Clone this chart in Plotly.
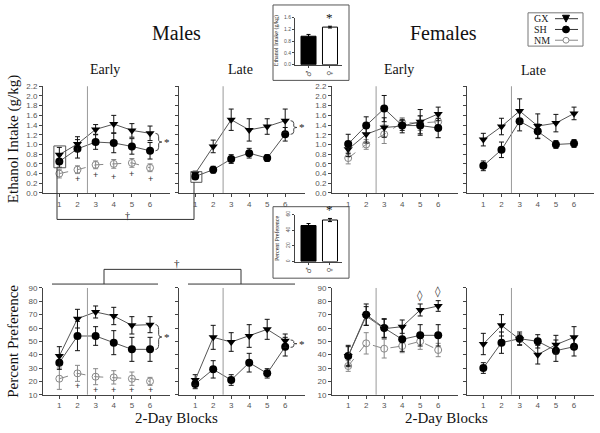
import plotly.graph_objects as go

W, H = 600, 433
def px(x): return x / W
def py(y): return 1 - y / H

# ---------------- data ----------------
blocks = [1, 2, 3, 4, 5, 6]
intake_ticks = [0.0, 0.2, 0.4, 0.6, 0.8, 1.0, 1.2, 1.4, 1.6, 1.8, 2.0, 2.2]
pref_ticks = [10, 20, 30, 40, 50, 60, 70, 80, 90]

# Ethanol intake (g/kg)
m_early_gx = [0.79, 1.01, 1.31, 1.42, 1.29, 1.23]
m_early_gx_se = [0.15, 0.15, 0.10, 0.18, 0.14, 0.15]
m_early_sh = [0.65, 0.91, 1.05, 1.03, 0.96, 0.87]
m_early_sh_se = [0.12, 0.19, 0.15, 0.20, 0.16, 0.17]
m_early_nm = [0.40, 0.48, 0.58, 0.60, 0.62, 0.52]
m_early_nm_se = [0.09, 0.08, 0.08, 0.09, 0.09, 0.08]

m_late_gx = [0.40, 0.96, 1.51, 1.30, 1.37, 1.49]
m_late_gx_se = [0.05, 0.13, 0.22, 0.23, 0.16, 0.24]
m_late_sh = [0.34, 0.48, 0.70, 0.82, 0.72, 1.21]
m_late_sh_se = [0.05, 0.07, 0.09, 0.10, 0.07, 0.14]

f_early_gx = [0.90, 1.21, 1.35, 1.38, 1.47, 1.63]
f_early_gx_se = [0.15, 0.18, 0.20, 0.14, 0.25, 0.14]
f_early_sh = [1.01, 1.39, 1.74, 1.39, 1.39, 1.34]
f_early_sh_se = [0.20, 0.18, 0.27, 0.10, 0.20, 0.20]
f_early_nm = [0.72, 1.00, 1.21, 1.45, 1.44, 1.47]
f_early_nm_se = [0.12, 0.10, 0.19, 0.10, 0.15, 0.12]

f_late_gx = [1.10, 1.37, 1.69, 1.38, 1.44, 1.64]
f_late_gx_se = [0.13, 0.17, 0.25, 0.25, 0.18, 0.13]
f_late_sh = [0.56, 0.89, 1.48, 1.27, 1.00, 1.02]
f_late_sh_se = [0.10, 0.16, 0.20, 0.15, 0.08, 0.08]

# Percent preference
m_early_gx_p = [39, 67, 72, 69, 62, 62.5]
m_early_gx_p_se = [7, 7, 4.5, 6.5, 6.5, 6]
m_early_sh_p = [34, 54, 54, 49, 44, 44]
m_early_sh_p_se = [5, 11, 7, 9, 9, 9]
m_early_nm_p = [22, 26, 23.5, 23, 22, 20]
m_early_nm_p_se = [8, 6, 6, 5, 5, 3]

m_late_gx_p = [21, 53, 49.5, 54, 59, 50.5]
m_late_gx_p_se = [4, 9, 7, 8.5, 7.5, 5]
m_late_sh_p = [18, 29, 21, 34, 26, 46]
m_late_sh_p_se = [3.5, 6.5, 4, 7, 3.5, 7]

f_early_gx_p = [39, 69, 59.5, 61, 73.5, 76.5]
f_early_gx_p_se = [7, 7, 7, 5, 4.5, 4]
f_early_sh_p = [39, 70, 60, 51.5, 54.5, 54.5]
f_early_sh_p_se = [8, 8, 7, 9, 8, 8]
f_early_nm_p = [31.5, 48.5, 44.5, 46.5, 50, 43.5]
f_early_nm_p_se = [4, 8, 7, 5, 6, 5]

f_late_gx_p = [48, 62, 51.5, 40, 47.5, 53]
f_late_gx_p_se = [8, 8, 4, 7, 7, 8]
f_late_sh_p = [30, 49, 52, 50, 43, 46]
f_late_sh_p_se = [4, 8, 5, 5, 8, 7]

# Insets (sex difference)
sexes = ["\u2642", "\u2640"]
inset_intake = [0.97, 1.28]
inset_intake_se = [0.06, 0.03]
inset_pref = [46, 53]
inset_pref_se = [2.5, 2]

# significance marks
plus_blocks_intake = [2, 3, 4, 5, 6]
plus_y_intake = [0.28, 0.37, 0.32, 0.40, 0.29]
plus_blocks_pref = [2, 3, 4, 5, 6]
plus_y_pref = [16.5, 13.5, 13.5, 13.5, 13.5]
diamond_blocks = [5, 6]
diamond_y = [84.5, 87.5]

# ---------------- figure ----------------
SERIF = "Liberation Serif"
SANS = "Liberation Sans"
AX = "#444444"
TICKC = "#555555"
TXT = "#222222"

fig = go.Figure()

def axn(n, c):
    return c if n == 1 else f"{c}{n}"

STYLE = {
    "GX": dict(marker=dict(symbol="triangle-down", size=8, color="black"),
               line=dict(color="#555555", width=1), ecol="#111111"),
    "SH": dict(marker=dict(symbol="circle", size=8, color="black"),
               line=dict(color="#555555", width=1), ecol="#111111"),
    "NM": dict(marker=dict(symbol="circle-open", size=7, color="#888888", line=dict(width=1)),
               line=dict(color="#888888", width=1, dash="dash"), ecol="#888888"),
}

def add_series(n, y, se, kind):
    s = STYLE[kind]
    fig.add_trace(go.Scatter(
        x=blocks, y=y, mode="lines+markers", name=kind, showlegend=False,
        marker=s["marker"], line=s["line"], cliponaxis=False,
        error_y=dict(type="data", array=se, color=s["ecol"], thickness=1, width=2.5),
        xaxis=axn(n, "x"), yaxis=axn(n, "y")))

# top row
add_series(1, m_early_nm, m_early_nm_se, "NM")
add_series(1, m_early_sh, m_early_sh_se, "SH")
add_series(1, m_early_gx, m_early_gx_se, "GX")
add_series(2, m_late_sh, m_late_sh_se, "SH")
add_series(2, m_late_gx, m_late_gx_se, "GX")
add_series(3, f_early_nm, f_early_nm_se, "NM")
add_series(3, f_early_gx, f_early_gx_se, "GX")
add_series(3, f_early_sh, f_early_sh_se, "SH")
add_series(4, f_late_sh, f_late_sh_se, "SH")
add_series(4, f_late_gx, f_late_gx_se, "GX")
# bottom row
add_series(5, m_early_nm_p, m_early_nm_p_se, "NM")
add_series(5, m_early_sh_p, m_early_sh_p_se, "SH")
add_series(5, m_early_gx_p, m_early_gx_p_se, "GX")
add_series(6, m_late_sh_p, m_late_sh_p_se, "SH")
add_series(6, m_late_gx_p, m_late_gx_p_se, "GX")
add_series(7, f_early_nm_p, f_early_nm_p_se, "NM")
add_series(7, f_early_sh_p, f_early_sh_p_se, "SH")
add_series(7, f_early_gx_p, f_early_gx_p_se, "GX")
add_series(8, f_late_sh_p, f_late_sh_p_se, "SH")
add_series(8, f_late_gx_p, f_late_gx_p_se, "GX")

# insets
for n, vals, se in [(9, inset_intake, inset_intake_se), (10, inset_pref, inset_pref_se)]:
    fig.add_trace(go.Bar(
        x=[0, 1], y=vals, width=0.7, showlegend=False,
        marker=dict(color=["black", "white"], line=dict(color="black", width=1)),
        error_y=dict(type="data", array=se, color="black", thickness=1, width=2),
        xaxis=axn(n, "x"), yaxis=axn(n, "y")))

layout = dict(
    width=W, height=H, margin=dict(l=0, r=0, t=0, b=0),
    paper_bgcolor="white", plot_bgcolor="rgba(0,0,0,0)", showlegend=False,
)

xdom = [(43, 170), (179, 305), (332, 458), (467, 594)]
top_y = (193, 84)
bot_y = (399, 290)

for i in range(8):
    n = i + 1
    xd = xdom[i % 4]
    yd = top_y if i < 4 else bot_y
    labels = (i % 4) in (0, 2)
    xa = dict(domain=[px(xd[0]), px(xd[1])], range=[0.1, 7.1], tickvals=blocks,
              ticks="outside", ticklen=3, tickcolor=AX, showline=True, linecolor=AX,
              linewidth=1, showgrid=False, zeroline=False, anchor=axn(n, "y"),
              tickfont=dict(family=SANS, size=8, color=TICKC), fixedrange=True)
    if i < 4:
        ya = dict(range=[0, 2.2], tickvals=intake_ticks,
                  ticktext=[f"{v:.1f}" for v in intake_ticks])
    else:
        ya = dict(range=[10, 90], tickvals=pref_ticks, ticktext=[str(v) for v in pref_ticks])
    ya.update(domain=[py(yd[0]), py(yd[1])], ticks="outside", ticklen=3, tickcolor=AX,
              showline=True, linecolor=AX, linewidth=1, showgrid=False, zeroline=False,
              anchor=axn(n, "x"), showticklabels=labels,
              tickfont=dict(family=SANS, size=8, color=TICKC), fixedrange=True)
    layout["xaxis" if n == 1 else f"xaxis{n}"] = xa
    layout["yaxis" if n == 1 else f"yaxis{n}"] = ya

# inset axes
for n, (y0, y1), rng, tv, tt, yang in [
        (9, (62, 14), [0, 1.6], [0, 0.4, 0.8, 1.2, 1.6], ["0.0", "0.4", "0.8", "1.2", "1.6"], 0),
        (10, (263, 215), [0, 60], [0, 20, 40, 60], ["0", "20", "40", "60"], -90)]:
    layout[f"xaxis{n}"] = dict(domain=[px(295), px(342)], range=[-0.63, 1.56],
                               tickvals=[0, 1], ticktext=sexes, tickangle=-90,
                               ticks="outside", ticklen=2, showline=True, linecolor=AX,
                               showgrid=False, zeroline=False, anchor=f"y{n}",
                               tickfont=dict(family="DejaVu Sans", size=7, color=TICKC),
                               fixedrange=True)
    layout[f"yaxis{n}"] = dict(domain=[py(y0), py(y1)], range=rng, tickvals=tv, ticktext=tt,
                               tickangle=yang, ticks="outside", ticklen=2, showline=True,
                               linecolor=AX, showgrid=False, zeroline=False, anchor=f"x{n}",
                               tickfont=dict(family=SANS, size=5, color=TICKC),
                               fixedrange=True)

fig.update_layout(**layout)

shapes = []
ann = []

def pline(x0, y0, x1, y1, color="#333333", width=1):
    shapes.append(dict(type="line", xref="paper", yref="paper", x0=px(x0), y0=py(y0),
                       x1=px(x1), y1=py(y1), line=dict(color=color, width=width)))

# vertical separators at block 2.5
for n in range(1, 9):
    shapes.append(dict(type="line", xref=axn(n, "x"), yref=f"{axn(n, 'y')} domain",
                       x0=2.55, x1=2.55, y0=0, y1=1, line=dict(color="#999999", width=1)))

# boxes around block-1 points
shapes.append(dict(type="rect", xref="x", yref="y", x0=0.7, x1=1.35, y0=0.52, y1=0.97,
                   line=dict(color="#555555", width=1)))
shapes.append(dict(type="rect", xref="x2", yref="y2", x0=0.76, x1=1.37, y0=0.22, y1=0.44,
                   line=dict(color="#555555", width=1)))

# dagger connector (intake)
pline(57, 167, 57, 220)
pline(57, 220, 194, 220)
pline(194, 220, 194, 182)
ann.append(dict(xref="paper", yref="paper", x=px(124), y=py(216), text="\u2020",
                showarrow=False, borderpad=0, font=dict(family=SERIF, size=10, color=TXT)))

# dagger connector (preference)
pline(52, 286, 158, 286)
pline(104, 286, 104, 271)
pline(104, 271, 241, 271)
pline(241, 271, 241, 286)
pline(188, 286, 295, 286)
ann.append(dict(xref="paper", yref="paper", x=px(173), y=py(265), text="\u2020",
                showarrow=False, borderpad=0, font=dict(family=SERIF, size=11, color=TXT)))

# inset frames
shapes.append(dict(type="rect", xref="paper", yref="paper", x0=px(273), x1=px(349),
                   y0=py(78), y1=py(1), line=dict(color="#555555", width=1)))
shapes.append(dict(type="rect", xref="paper", yref="paper", x0=px(273), x1=px(349),
                   y0=py(280), y1=py(207), line=dict(color="#555555", width=1)))

# legend (manual, text left / symbol right as in the original)
shapes.append(dict(type="rect", xref="paper", yref="paper", x0=px(528), x1=px(583),
                   y0=py(43), y1=py(9), line=dict(color="#777777", width=1)))
for name, yy in [("GX", 15), ("SH", 26), ("NM", 37)]:
    ann.append(dict(xref="paper", yref="paper", x=px(533), y=py(yy), text=name,
                    xanchor="left", yanchor="middle", showarrow=False, borderpad=0,
                    font=dict(family=SERIF, size=10, color=TXT)))
pline(555, 15, 578, 15, color="#333333")
pline(555, 26, 578, 26, color="#333333")
pline(555, 37, 578, 37, color="#888888")
shapes.append(dict(type="path", xref="paper", yref="paper",
                   path=f"M {px(562.5)} {py(11.5)} L {px(569.5)} {py(11.5)} L {px(566)} {py(18.5)} Z",
                   fillcolor="black", line=dict(color="black", width=1)))
shapes.append(dict(type="circle", xref="paper", yref="paper", x0=px(562.5), x1=px(569.5),
                   y0=py(29.5), y1=py(22.5), fillcolor="black", line=dict(color="black", width=1)))
shapes.append(dict(type="circle", xref="paper", yref="paper", x0=px(563), x1=px(569),
                   y0=py(40), y1=py(34), fillcolor="white", line=dict(color="#888888", width=1)))

# titles
def ptext(x, y, text, size, angle=0, family=SERIF, color="#111111"):
    ann.append(dict(xref="paper", yref="paper", x=px(x), y=py(y), text=text,
                    showarrow=False, textangle=angle, xanchor="center", yanchor="middle",
                    font=dict(family=family, size=size, color=color)))

ptext(176, 30, "Males", 20)
ptext(443, 30, "Females", 20)
ptext(105, 67, "Early", 14)
ptext(240, 67, "Late", 14)
ptext(399, 67, "Early", 14)
ptext(533, 68, "Late", 14)
ptext(13, 138, "Ethanol Intake (g/kg)", 15, angle=-90)
ptext(13, 345, "Percent Preference", 15, angle=-90)
ptext(176, 423, "2-Day Blocks", 15)
ptext(446, 423, "2-Day Blocks", 15)
ptext(276, 38, "Ethanol Intake (g/kg)", 6, angle=-90)
ptext(277, 240, "Percent Preference", 6, angle=-90)

# stars on insets
ann.append(dict(xref="x9", yref="y9", x=1, y=inset_intake[1] + inset_intake_se[1], text="*",
                showarrow=False, yanchor="bottom", borderpad=0,
                font=dict(family=SERIF, size=13, color="#111111")))
ann.append(dict(xref="x10", yref="y10", x=1, y=inset_pref[1] + inset_pref_se[1], text="*",
                showarrow=False, yanchor="bottom", borderpad=0,
                font=dict(family=SERIF, size=13, color="#111111")))

# plus signs under NM
for b, yv in zip(plus_blocks_intake, plus_y_intake):
    ann.append(dict(xref="x", yref="y", x=b, y=yv, text="+", showarrow=False,
                    font=dict(family=SANS, size=9, color="#333333")))
for b, yv in zip(plus_blocks_pref, plus_y_pref):
    ann.append(dict(xref="x5", yref="y5", x=b, y=yv, text="+", showarrow=False,
                    font=dict(family=SANS, size=9, color="#333333")))
# diamonds
for b, yv in zip(diamond_blocks, diamond_y):
    ann.append(dict(xref="x7", yref="y7", x=b, y=yv, text="\u25ca", showarrow=False,
                    font=dict(family="DejaVu Sans", size=11, color="#333333")))

# curly braces (drawn as paths) with asterisks
def brace(n, x0, x1, yt, yb, xs):
    xm = (x0 + x1) / 2
    ym = (yt + yb) / 2
    h = yt - yb
    path = (f"M {x0},{yt} Q {xm},{yt} {xm},{yt - 0.2 * h} L {xm},{ym + 0.1 * h} "
            f"Q {xm},{ym} {x1},{ym} Q {xm},{ym} {xm},{ym - 0.1 * h} "
            f"L {xm},{yb + 0.2 * h} Q {xm},{yb} {x0},{yb}")
    shapes.append(dict(type="path", xref=axn(n, "x"), yref=axn(n, "y"), path=path,
                       line=dict(color="#444444", width=1)))
    ann.append(dict(xref=axn(n, "x"), yref=axn(n, "y"), x=xs, y=ym, text="*",
                    showarrow=False, font=dict(family=SERIF, size=11, color=TXT)))

brace(1, 6.3, 6.65, m_early_gx[5], m_early_sh[5], 6.95)
brace(2, 6.3, 6.65, m_late_gx[5], m_late_sh[5], 6.95)
brace(5, 6.3, 6.65, m_early_gx_p[5], m_early_sh_p[5], 6.95)
brace(6, 6.3, 6.65, m_late_gx_p[5] + 0.5, m_late_sh_p[5] - 0.5, 6.95)

fig.update_layout(shapes=shapes, annotations=ann)
fig.write_html("out.html", config={"displayModeBar": False, "staticPlot": True},
               post_script="document.body.style.margin='0';")
